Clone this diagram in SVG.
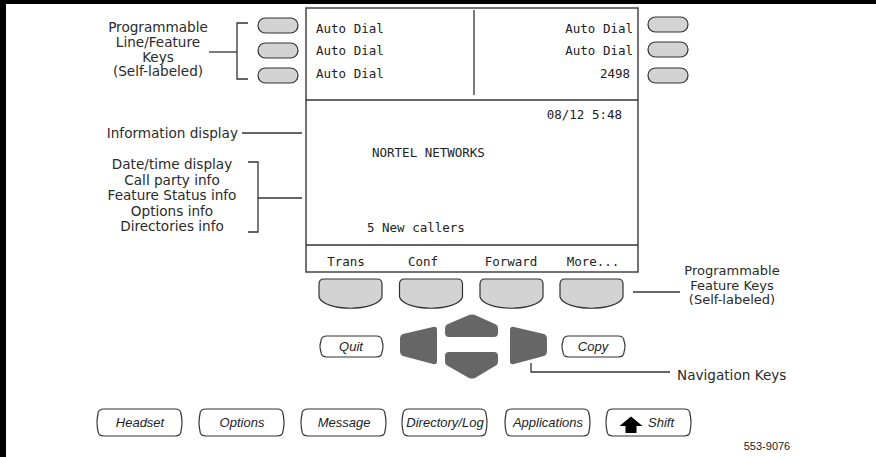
<svg xmlns="http://www.w3.org/2000/svg" xmlns:xlink="http://www.w3.org/1999/xlink" width="876" height="457" viewBox="0 0 876 457">
<style>
.lbl{font-family:"DejaVu Sans","Liberation Sans",sans-serif;font-size:13.6px;fill:#2a2a2a}
.lbl2{font-family:"DejaVu Sans","Liberation Sans",sans-serif;font-size:13px;fill:#2a2a2a}
.lcd{font-family:"DejaVu Sans Mono","Liberation Mono",monospace;font-size:12.5px;fill:#222}
.btn{font-family:"Liberation Sans",Arial,sans-serif;font-size:13px;font-style:italic;fill:#222}
.ln{stroke:#333;stroke-width:1.3;fill:none}
.key{fill:#d3d3d3;stroke:#333;stroke-width:1.2}
.nav{fill:#666}
.frame{fill:#fff;stroke:#444;stroke-width:1.5}
.hw{fill:#fff;stroke:#333;stroke-width:1.2}
</style>
<defs>
<path id="bigbtn" d="M7,0 H78 Q84,0 84,5 Q86,13.5 84,22 Q84,27 78,27 H7 Q1,27 1,22 Q-1,13.5 1,5 Q1,0 7,0 Z"/>
<path id="smbtn" d="M7,0 H56 Q62,0 62,5 Q64,10.5 62,16 Q62,21 56,21 H7 Q1,21 1,16 Q-1,10.5 1,5 Q1,0 7,0 Z"/>
<path id="soft" d="M5,0 H58 Q63,0 63,5 V18 C58,33 5,33 0,18 V5 Q0,0 5,0 Z"/>
<rect id="lkey" width="40" height="15" rx="7.5"/>
</defs>
<rect width="876" height="457" fill="#fff"/>
<rect x="0" y="0" width="876" height="4" fill="#000"/>
<rect x="0" y="0" width="6" height="457" fill="#000"/>

<g id="display">
<rect class="frame" x="306" y="8" width="332" height="264"/>
<line class="ln" x1="474" y1="10" x2="474" y2="95"/>
<line class="ln" x1="306" y1="100" x2="638" y2="100"/>
<line class="ln" x1="306" y1="245" x2="638" y2="245"/>
<text class="lcd" x="316" y="33">Auto Dial</text>
<text class="lcd" x="316" y="55">Auto Dial</text>
<text class="lcd" x="316" y="78">Auto Dial</text>
<text class="lcd" x="633" y="33" text-anchor="end">Auto Dial</text>
<text class="lcd" x="633" y="55" text-anchor="end">Auto Dial</text>
<text class="lcd" x="630" y="78" text-anchor="end">2498</text>
<text class="lcd" x="622" y="119" text-anchor="end">08/12 5:48</text>
<text class="lcd" x="372" y="157">NORTEL NETWORKS</text>
<text class="lcd" x="367" y="232">5 New callers</text>
<text class="lcd" x="346" y="266" text-anchor="middle">Trans</text>
<text class="lcd" x="423" y="266" text-anchor="middle">Conf</text>
<text class="lcd" x="511" y="266" text-anchor="middle">Forward</text>
<text class="lcd" x="593" y="266" text-anchor="middle">More...</text>
</g>

<g id="line-keys-left">
<use href="#lkey" class="key" x="258" y="18"/>
<use href="#lkey" class="key" x="258" y="43"/>
<use href="#lkey" class="key" x="258" y="68"/>
</g>
<g id="line-keys-right">
<use href="#lkey" class="key" x="648" y="17"/>
<use href="#lkey" class="key" x="648" y="42"/>
<use href="#lkey" class="key" x="648" y="68"/>
</g>

<g id="soft-keys">
<use href="#soft" class="key" x="319" y="279"/>
<use href="#soft" class="key" x="399.5" y="279"/>
<use href="#soft" class="key" x="480" y="279"/>
<use href="#soft" class="key" x="560" y="279"/>
</g>

<g id="quit"><use href="#smbtn" class="hw" x="320" y="336"/><text class="btn" x="351" y="351" text-anchor="middle">Quit</text></g>
<g id="copy"><use href="#smbtn" class="hw" x="562" y="336"/><text class="btn" x="593" y="351" text-anchor="middle">Copy</text></g>

<g id="nav-keys">
<path class="nav" d="M469,315 Q472,314 475,315 L495,324 Q498,325 498,329 V333 Q498,337 494,337 H449 Q445,337 445,333 V329 Q445,325 448,324 Z"/>
<path class="nav" d="M449,352 H494 Q498,352 498,356 V361 Q498,365 495,366 L475,378 Q472,379 469,378 L448,366 Q445,365 445,361 V356 Q445,352 449,352 Z"/>
<path class="nav" d="M433,327 Q437,326 437,330 V361 Q437,365 433,364 L403,356 Q400,355 400,351 V339 Q400,335 403,334 Z"/>
<path class="nav" d="M514,327 Q510,326 510,330 V361 Q510,365 514,364 L544,356 Q547,355 547,351 V339 Q547,335 544,334 Z"/>
</g>

<g id="bottom-buttons">
<g id="headset"><use href="#bigbtn" class="hw" x="97" y="409"/><text class="btn" x="140" y="427" text-anchor="middle">Headset</text></g>
<g id="options"><use href="#bigbtn" class="hw" x="199" y="409"/><text class="btn" x="242" y="427" text-anchor="middle">Options</text></g>
<g id="message"><use href="#bigbtn" class="hw" x="301" y="409"/><text class="btn" x="344" y="427" text-anchor="middle">Message</text></g>
<g id="directory"><use href="#bigbtn" class="hw" x="402" y="409"/><text class="btn" x="445" y="427" text-anchor="middle">Directory/Log</text></g>
<g id="applications"><use href="#bigbtn" class="hw" x="505" y="409"/><text class="btn" x="548" y="427" text-anchor="middle">Applications</text></g>
<g id="shift"><use href="#bigbtn" class="hw" x="606" y="409"/>
<polygon points="631,416.5 619.5,426 625.5,426 625.5,433 636.5,433 636.5,426 642.5,426" fill="#000"/>
<text class="btn" x="648" y="427">Shift</text></g>
</g>

<g id="labels">
<text class="lbl" text-anchor="middle"><tspan x="158" y="32">Programmable</tspan><tspan x="158" y="47">Line/Feature</tspan><tspan x="158" y="61.5">Keys</tspan><tspan x="158" y="76">(Self-labeled)</tspan></text>
<text class="lbl" x="238" y="138" text-anchor="end">Information display</text>
<text class="lbl" text-anchor="middle"><tspan x="172" y="169">Date/time display</tspan><tspan x="172" y="184.5">Call party info</tspan><tspan x="172" y="200">Feature Status info</tspan><tspan x="172" y="215.5">Options info</tspan><tspan x="172" y="231">Directories info</tspan></text>
<text class="lbl2" text-anchor="middle"><tspan x="732" y="275">Programmable</tspan><tspan x="732" y="289.5">Feature Keys</tspan><tspan x="732" y="304">(Self-labeled)</tspan></text>
<text class="lbl" x="677" y="380">Navigation Keys</text>
<text x="767" y="450" text-anchor="middle" font-family="Liberation Sans, Arial, sans-serif" font-size="11" fill="#222">553-9076</text>
</g>

<g id="connectors">
<polyline class="ln" points="248,23 237,23 237,79 248,79"/>
<line class="ln" x1="209" y1="52" x2="237" y2="52"/>
<line class="ln" x1="242" y1="133" x2="302" y2="133"/>
<polyline class="ln" points="248,162 258,162 258,232 248,232"/>
<line class="ln" x1="258" y1="198" x2="302" y2="198"/>
<line class="ln" x1="633" y1="292" x2="680" y2="292"/>
<polyline class="ln" points="531,363 531,372 670,372"/>
</g>
</svg>
